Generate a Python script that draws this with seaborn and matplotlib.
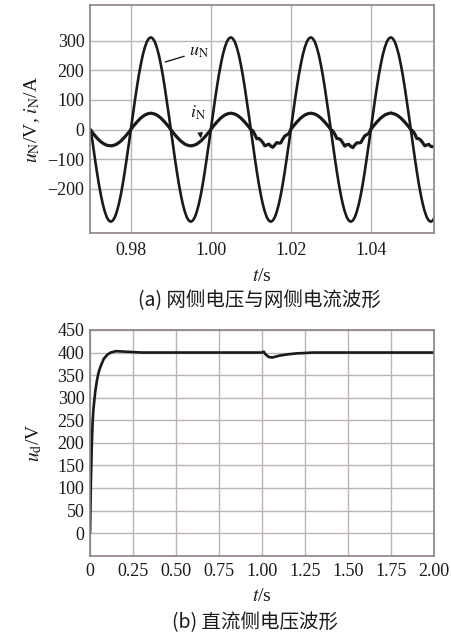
import numpy as np
import pandas as pd
import matplotlib
matplotlib.use("Agg")
import matplotlib.pyplot as plt
import seaborn as sns

# ---------------- data: panel (a) ----------------
t_start = 0.970
t_step = 0.0005  # sampling interval of the read-off points (s)

u_N = [0, -49, -96, -141, -183, -220, -252, -277, -296, -307, -311, -307, -296, -277, -252, -220, -183, -141, -96, -49,
       0, 49, 96, 141, 183, 220, 252, 277, 296, 307, 311, 307, 296, 277, 252, 220, 183, 141, 96, 49,
       0, -49, -96, -141, -183, -220, -252, -277, -296, -307, -311, -307, -296, -277, -252, -220, -183, -141, -96, -49,
       0, 49, 96, 141, 183, 220, 252, 277, 296, 307, 311, 307, 296, 277, 252, 220, 183, 141, 96, 49,
       0, -49, -96, -141, -183, -220, -252, -277, -296, -307, -311, -307, -296, -277, -252, -220, -183, -141, -96, -49,
       0, 49, 96, 141, 183, 220, 252, 277, 296, 307, 311, 307, 296, 277, 252, 220, 183, 141, 96, 49,
       0, -49, -96, -141, -183, -220, -252, -277, -296, -307, -311, -307, -296, -277, -252, -220, -183, -141, -96, -49,
       0, 49, 96, 141, 183, 220, 252, 277, 296, 307, 311, 307, 296, 277, 252, 220, 183, 141, 96, 49,
       0, -49, -96, -141, -183, -220, -252, -277, -296, -307, -311, -307, -296]

i_N = [-3, -12, -20, -28, -35, -41, -46, -50, -53, -54, -55, -54, -52, -49, -44, -39, -32, -25, -17, -9,
       0, 9, 17, 25, 32, 39, 44, 49, 52, 54, 55, 54, 52, 49, 44, 39, 32, 25, 17, 9,
       0, -9, -17, -25, -32, -39, -44, -49, -52, -54, -55, -54, -52, -49, -44, -39, -32, -25, -17, -9,
       0, 9, 17, 25, 32, 39, 44, 49, 52, 54, 55, 54, 52, 49, 44, 39, 32, 25, 17, 9,
       0, -4, -17, -31, -30, -36, -44, -55, -52, -49, -56, -60, -52, -44, -46, -45, -32, -22, -18, -14,
       0, 9, 17, 25, 32, 39, 44, 49, 52, 54, 55, 54, 52, 49, 44, 39, 32, 25, 17, 9,
       0, -5, -16, -30, -31, -35, -45, -56, -51, -50, -57, -61, -52, -45, -45, -44, -32, -21, -17, -13,
       0, 9, 17, 25, 32, 39, 44, 49, 52, 54, 56, 54, 52, 49, 44, 39, 32, 25, 17, 9,
       0, -5, -15, -30, -31, -36, -45, -55, -52, -50, -57, -58, -55]

t_a = [round(t_start + k * t_step, 4) for k in range(len(u_N))]

a_xticks = [0.98, 1.00, 1.02, 1.04]
a_xticklabels = ["0.98", "1.00", "1.02", "1.04"]
a_yticks = [-200, -100, 0, 100, 200, 300]

# ---------------- data: panel (b) ----------------
t_b = [0, 0.005, 0.01, 0.015, 0.02, 0.03, 0.04, 0.05, 0.06, 0.08, 0.10, 0.12, 0.15, 0.20, 0.30, 0.50,
       0.80, 1.00, 1.01, 1.02, 1.04, 1.06, 1.08, 1.10, 1.15, 1.20, 1.25, 1.30, 1.50, 2.00]
u_d = [0, 110, 190, 245, 275, 312, 338, 356, 368, 386, 395, 400, 403, 402, 400, 400,
       400, 400, 402, 396, 390, 389, 391, 393, 396, 398, 399, 400, 400, 400]

b_xticks = [0, 0.25, 0.50, 0.75, 1.00, 1.25, 1.50, 1.75, 2.00]
b_xticklabels = ["0", "0.25", "0.50", "0.75", "1.00", "1.25", "1.50", "1.75", "2.00"]
b_yticks = [0, 50, 100, 150, 200, 250, 300, 350, 400, 450]

# ---------------- style ----------------
sns.set_theme(style="whitegrid")
plt.rcParams["font.family"] = ["Liberation Serif", "DejaVu Serif"]
plt.rcParams["mathtext.fontset"] = "stix"

GRID = "#bdb3b1"
SPINE = "#8c8280"
INK = "#1a1a1a"

fig = plt.figure(figsize=(4.51, 6.36), dpi=100)
fig.patch.set_facecolor("white")

ax1 = fig.add_axes([0.1996, 0.6332, 0.7627, 0.3589])
ax2 = fig.add_axes([0.1996, 0.1263, 0.7627, 0.3549])

df_a = pd.DataFrame({"t": t_a, "u": u_N, "i": i_N})
sns.lineplot(data=df_a, x="t", y="u", ax=ax1, color=INK, lw=1.9)
sns.lineplot(data=df_a, x="t", y="i", ax=ax1, color=INK, lw=2.3)

df_b = pd.DataFrame({"t": t_b, "u": u_d})
sns.lineplot(data=df_b, x="t", y="u", ax=ax2, color=INK, lw=1.9)

for ax in (ax1, ax2):
    ax.set_facecolor("white")
    ax.grid(True, color=GRID, lw=1.0)
    for s in ax.spines.values():
        s.set_color(SPINE)
        s.set_linewidth(1.2)
    ax.tick_params(length=0, labelsize=13, colors=INK)

ax1.set_xlim(0.9698, 1.0558)
ax1.set_ylim(-350, 420)
ax1.set_xticks(a_xticks)
ax1.set_xticklabels(a_xticklabels)
ax1.set_yticks(a_yticks)
ax1.tick_params(axis="x", pad=6.5)
ax1.tick_params(axis="y", pad=4)
ax1.set_xlabel(r"$t$/s", fontsize=14, labelpad=6, color=INK)
ax1.set_ylabel(r"$u_{\mathrm{N}}$/V, $i_{\mathrm{N}}$/A", fontsize=14, labelpad=4, color=INK)

ax2.set_xlim(0, 2.0)
ax2.set_ylim(-50, 450)
ax2.set_xticks(b_xticks)
ax2.set_xticklabels(b_xticklabels)
ax2.set_yticks(b_yticks)
ax2.tick_params(axis="x", pad=5)
ax2.tick_params(axis="y", pad=4)
ax2.set_xlabel(r"$t$/s", fontsize=14, labelpad=6, color=INK)
ax2.set_ylabel(r"$u_{\mathrm{d}}$/V", fontsize=14, labelpad=10, color=INK)

# annotations
ax1.annotate(r"$u_{\mathrm{N}}$", xy=(0.98865, 228), xytext=(0.9945, 262),
             fontsize=13, color=INK, ha="left", va="center",
             arrowprops=dict(arrowstyle="-", color=INK, lw=1.0, shrinkA=1, shrinkB=0))
ax1.annotate(r"$i_{\mathrm{N}}$", xy=(0.9975, -30), xytext=(0.9968, 58),
             fontsize=13, color=INK, ha="center", va="center",
             arrowprops=dict(arrowstyle="-|>", color=INK, lw=1.0, mutation_scale=7, shrinkA=6, shrinkB=0))

cjk = ["Noto Sans CJK SC", "DejaVu Sans"]
fig.text(0.575, 1 - 301 / 636, "(a) 网侧电压与网侧电流波形", family=cjk, fontsize=14,
         ha="center", va="center", color=INK)
fig.text(0.565, 1 - 623 / 636, "(b) 直流侧电压波形", family=cjk, fontsize=14,
         ha="center", va="center", color=INK)

fig.savefig("out.png", dpi=100, facecolor="white")
